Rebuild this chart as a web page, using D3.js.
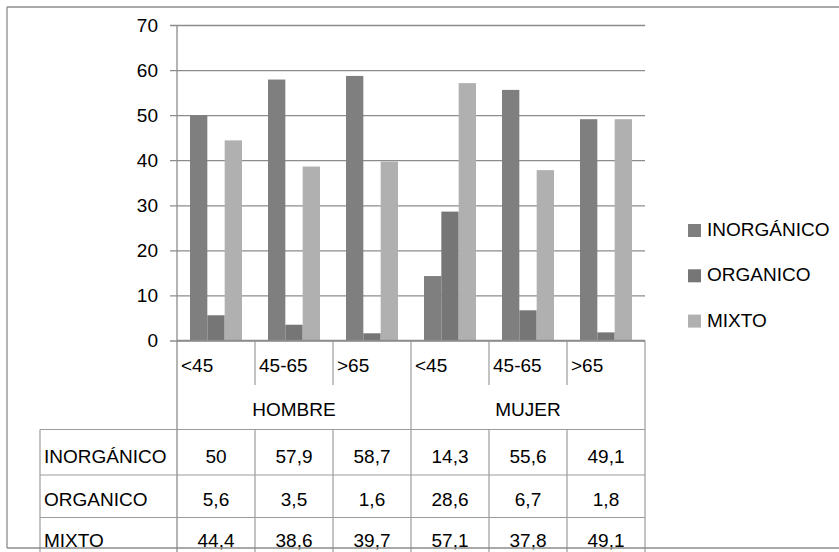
<!DOCTYPE html>
<html>
<head>
<meta charset="utf-8">
<script src="https://cdn.jsdelivr.net/npm/d3@7"></script>
<style>
  body { margin: 0; background: #fff; }
  text { font-family: "Liberation Sans", Arial, sans-serif; fill: #000; }
</style>
</head>
<body>
<div id="chart"></div>
<script>
// the data
const groups = ["HOMBRE", "MUJER"];
const ages = ["<45", "45-65", ">65"];
const seriesNames = ["INORGÁNICO", "ORGANICO", "MIXTO"];
const inorganico = [50, 57.9, 58.7, 14.3, 55.6, 49.1];
const organico = [5.6, 3.5, 1.6, 28.6, 6.7, 1.8];
const mixto = [44.4, 38.6, 39.7, 57.1, 37.8, 49.1];
const yTicks = [0, 10, 20, 30, 40, 50, 60, 70];

const colors = ["#7f7f7f", "#767676", "#b0b0b0"];
const lineColor = "#8c8c8c";
const tableColor = "#9c9c9c";

const width = 839, height = 552;
const plot = { left: 177, right: 645, top: 25, bottom: 340.5 };

const svg = d3.select("#chart").append("svg")
    .attr("width", width).attr("height", height);

// category keys: group|age
const cats = [];
groups.forEach(g => ages.forEach(a => cats.push({ group: g, age: a })));
const catKeys = cats.map(d => d.group + "|" + d.age);
const allSeries = [inorganico, organico, mixto];

// scales
const xScale = d3.scaleBand().domain(catKeys).range([plot.left, plot.right]).padding(0);
const xSub = d3.scaleBand().domain(seriesNames).range([0, xScale.bandwidth()])
    .paddingInner(0).paddingOuter(0.75);
const yScale = d3.scaleLinear().domain([0, 70]).range([plot.bottom, plot.top]);

// gridlines + tick labels (axis placed on the right so ticks reach past the left edge)
const yAxis = d3.axisLeft(yScale).tickValues(yTicks)
    .tickSize(plot.right - plot.left + 7).tickPadding(12);
const yG = svg.append("g").attr("transform", "translate(" + plot.right + ",0)").call(yAxis);
yG.select(".domain").remove();
yG.selectAll("line").attr("stroke", lineColor).attr("stroke-width", 1.3);
yG.selectAll("text").style("font-size", "19px")
    .style("font-family", "'Liberation Sans', Arial, sans-serif").attr("fill", "#000");

// vertical axis line
svg.append("line").attr("x1", plot.left).attr("x2", plot.left)
    .attr("y1", plot.top).attr("y2", height).attr("stroke", lineColor).attr("stroke-width", 1.3);

// bars
seriesNames.forEach((s, si) => {
    svg.append("g").selectAll("rect").data(allSeries[si]).join("rect")
        .attr("x", (d, i) => xScale(catKeys[i]) + xSub(s))
        .attr("width", xSub.bandwidth())
        .attr("y", d => yScale(d))
        .attr("height", d => yScale(0) - yScale(d))
        .attr("fill", colors[si]);
});

// data table under the plot
const catRowBottom = 385;
const groupRowBottom = 429.5;
const rowTops = [429.5, 475, 517.5];
const rowText = [458, 500.5, 542];
const tableLeft = 40;
const tbl = svg.append("g").attr("stroke", tableColor).attr("stroke-width", 1.2);

// category separators
catKeys.forEach((k, i) => {
    const x = xScale(k);
    if (i % 3 !== 0) {
        tbl.append("line").attr("x1", x).attr("x2", x).attr("y1", plot.bottom).attr("y2", catRowBottom);
        tbl.append("line").attr("x1", x).attr("x2", x).attr("y1", groupRowBottom).attr("y2", height);
    } else if (i > 0) {
        tbl.append("line").attr("x1", x).attr("x2", x).attr("y1", plot.bottom).attr("y2", height);
    }
});
tbl.append("line").attr("x1", plot.right).attr("x2", plot.right).attr("y1", plot.bottom).attr("y2", height);
tbl.append("line").attr("x1", tableLeft).attr("x2", tableLeft).attr("y1", groupRowBottom).attr("y2", height);
rowTops.forEach(y => {
    tbl.append("line").attr("x1", tableLeft).attr("x2", plot.right).attr("y1", y).attr("y2", y);
});

// horizontal axis line (zero)
svg.append("line").attr("x1", plot.left).attr("x2", plot.right)
    .attr("y1", plot.bottom).attr("y2", plot.bottom).attr("stroke", lineColor).attr("stroke-width", 1.3);

// category labels
svg.append("g").selectAll("text").data(cats).join("text")
    .attr("x", (d, i) => xScale(catKeys[i]) + 4)
    .attr("y", 367).attr("dominant-baseline", "middle")
    .style("font-size", "19px").text(d => d.age);

// group labels
svg.append("g").selectAll("text").data(groups).join("text")
    .attr("x", g => (xScale(g + "|" + ages[0]) + xScale(g + "|" + ages[2]) + xScale.bandwidth()) / 2)
    .attr("y", 410.5).attr("text-anchor", "middle").attr("dominant-baseline", "middle")
    .style("font-size", "19px").text(g => g);

// table rows
const fmt = v => String(v).replace(".", ",");
seriesNames.forEach((s, si) => {
    svg.append("text").attr("x", tableLeft + 4).attr("y", rowText[si])
        .attr("dominant-baseline", "middle").style("font-size", "19px").text(s);
    svg.append("g").selectAll("text").data(allSeries[si]).join("text")
        .attr("x", (d, i) => xScale(catKeys[i]) + xScale.bandwidth() / 2)
        .attr("y", rowText[si]).attr("text-anchor", "middle").attr("dominant-baseline", "middle")
        .style("font-size", "19px").text(d => fmt(d));
});

// legend
const legend = svg.append("g").selectAll("g").data(seriesNames).join("g")
    .attr("transform", (d, i) => "translate(688," + (231 + i * 45.3) + ")");
legend.append("rect").attr("x", 0).attr("y", -7).attr("width", 13).attr("height", 13)
    .attr("fill", (d, i) => colors[i]);
legend.append("text").attr("x", 19).attr("y", 0).attr("dominant-baseline", "middle")
    .style("font-size", "19px").text(d => d);

// outer chart border (bottom edge cuts through the last table row)
const border = svg.append("g").attr("stroke", lineColor).attr("stroke-width", 1.3);
border.append("line").attr("x1", 7).attr("x2", width).attr("y1", 7).attr("y2", 7);
border.append("line").attr("x1", 7).attr("x2", 7).attr("y1", 7).attr("y2", 548);
border.append("line").attr("x1", 7).attr("x2", width).attr("y1", 548).attr("y2", 548);
</script>
</body>
</html>
